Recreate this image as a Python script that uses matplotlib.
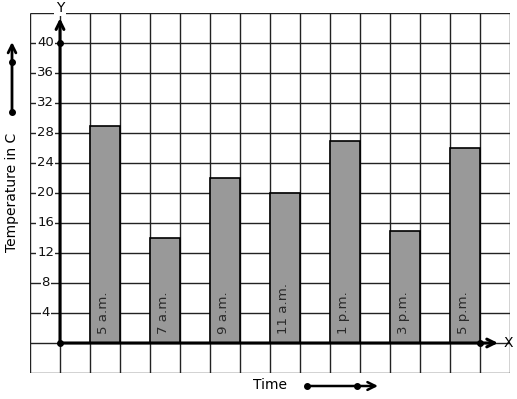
import matplotlib
matplotlib.use("Agg")
import matplotlib.pyplot as plt

categories = ["5 a.m.", "7 a.m.", "9 a.m.", "11 a.m.", "1 p.m.", "3 p.m.", "5 p.m."]
temperatures = [29, 14, 22, 20, 27, 15, 26]
y_ticks = [4, 8, 12, 16, 20, 24, 28, 32, 36, 40]

W, H = 517, 399
fig = plt.figure(figsize=(W / 100, H / 100), dpi=100)
fig.patch.set_facecolor("white")
ax = fig.add_axes([30 / W, 26 / H, 480 / W, 360 / H])
ax.set_xlim(-1, 15)
ax.set_ylim(-4, 44)
ax.axis("off")

# grid
ax.vlines(range(-1, 16), -4, 44, colors="#222222", linewidth=1.0, zorder=1)
ax.hlines(range(-4, 45, 4), -1, 15, colors="#222222", linewidth=1.0, zorder=1)

# bars
xs = [1.5 + 2 * i for i in range(len(categories))]
ax.bar(xs, temperatures, width=1.0, color="#999999", edgecolor="black",
       linewidth=1.2, zorder=3)
for x, lab in zip(xs, categories):
    ax.text(x - 0.06, 1.2, lab, rotation=90, ha="center", va="bottom",
            fontsize=9.6, color="#2a2a2a", zorder=4)

# axes arrows
ax.annotate("", xy=(0, 43.3), xytext=(0, 0),
            arrowprops=dict(arrowstyle="->", lw=2.2, color="black",
                            shrinkA=0, shrinkB=0, mutation_scale=14),
            zorder=5, annotation_clip=False)
ax.annotate("", xy=(14.6, 0), xytext=(0, 0),
            arrowprops=dict(arrowstyle="->", lw=2.2, color="black",
                            shrinkA=0, shrinkB=0, mutation_scale=14),
            zorder=5, annotation_clip=False)
ax.plot([0, 0, 14], [0, 40, 0], "o", color="black", markersize=4, zorder=6)
ax.text(14.95, 0, "X", ha="center", va="center", fontsize=10, zorder=6)
ax.text(0, 44.7, "Y", ha="center", va="center", fontsize=10, zorder=6,
        clip_on=False, bbox=dict(facecolor="white", edgecolor="none", pad=1))

# y tick labels
for v in y_ticks:
    ax.text(-0.48, v, str(v), ha="center", va="center", fontsize=9.5,
            color="#111111", zorder=4,
            bbox=dict(facecolor="white", edgecolor="none", pad=0.6))

# y label with arrow
fig.text(12 / W, 1 - 192 / H, "Temperature in C", rotation=90,
         ha="center", va="center", fontsize=10)
fig.patches.append(matplotlib.patches.FancyArrowPatch(
    (12, H - 112), (12, H - 42), transform=None, arrowstyle="->",
    mutation_scale=14, lw=2, color="black", shrinkA=0, shrinkB=0))
fig.add_artist(matplotlib.lines.Line2D([12, 12], [H - 62, H - 112],
                                       transform=None, marker="o",
                                       markersize=4, lw=0, color="black"))

# x label with arrow
fig.text(270 / W, 1 - 385 / H, "Time", ha="center", va="center", fontsize=10)
fig.patches.append(matplotlib.patches.FancyArrowPatch(
    (307, H - 386), (378, H - 386), transform=None, arrowstyle="->",
    mutation_scale=14, lw=1.8, color="black", shrinkA=0, shrinkB=0))
fig.add_artist(matplotlib.lines.Line2D([307, 357], [H - 386, H - 386],
                                       transform=None, marker="o",
                                       markersize=4, lw=0, color="black"))

fig.savefig("out.png", dpi=100, facecolor="white")
